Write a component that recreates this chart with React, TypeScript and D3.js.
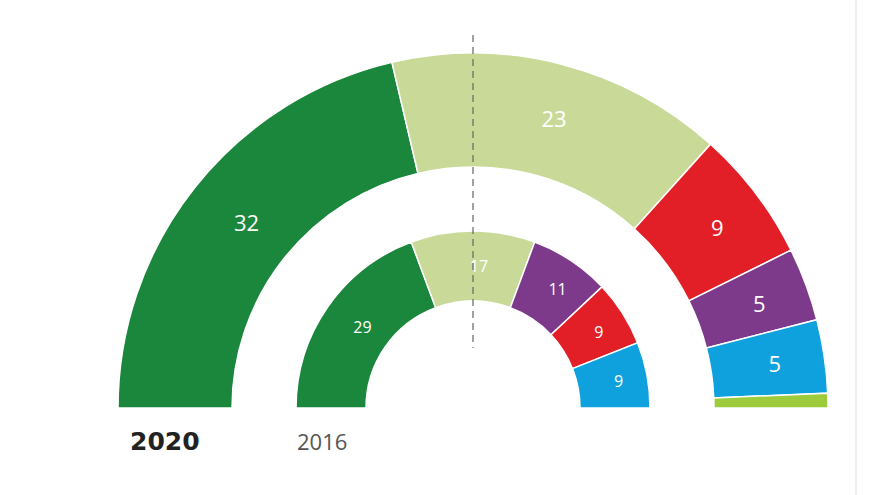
import * as d3 from "d3";

const width = 880;
const height = 495;
const cx = 473;
const cy = 408;

// 2020 (outer ring)
const seats2020 = [32, 23, 9, 5, 5, 1];
const colors2020 = ["#1b873c", "#c9da98", "#e21f26", "#7d3a8b", "#0ea1dd", "#9dcb3c"];

// 2016 (inner ring)
const seats2016 = [29, 17, 11, 9, 9];
const colors2016 = ["#1b873c", "#c9da98", "#7d3a8b", "#e21f26", "#0ea1dd"];

const yearLabels = ["2020", "2016"];

const pie = d3
  .pie<number>()
  .sort(null)
  .value((d) => d)
  .startAngle(-Math.PI / 2)
  .endAngle(Math.PI / 2);

function Ring({
  seats,
  colors,
  inner,
  outer,
  fontSize,
  dx,
}: {
  seats: number[];
  colors: string[];
  inner: number;
  outer: number;
  fontSize: number;
  dx: number;
}) {
  const arc = d3.arc<d3.PieArcDatum<number>>().innerRadius(inner).outerRadius(outer);
  const arcs = pie(seats);
  return (
    <g>
      {arcs.map((a, i) => (
        <path key={i} d={arc(a) ?? ""} fill={colors[i]} stroke="#fff" strokeWidth={1.5} />
      ))}
      {arcs.map((a, i) => {
        // la franja de 1 escaño no lleva etiqueta
        if (a.data < 2) return null;
        const [x, y] = arc.centroid(a);
        return (
          <text
            key={"t" + i}
            x={x + dx}
            y={y}
            dy="0.35em"
            textAnchor="middle"
            fill="#fff"
            fontSize={fontSize}
            fontFamily="'Open Sans', sans-serif"
          >
            {a.data}
          </text>
        );
      })}
    </g>
  );
}

export default function App() {
  return (
    <svg
      width={width}
      height={height}
      viewBox={`0 0 ${width} ${height}`}
      style={{ position: "absolute", left: 0, top: 0, background: "#fff" }}
    >
      <line x1={856} x2={856} y1={0} y2={height} stroke="#ebebeb" strokeWidth={1.5} />
      <g transform={`translate(${cx},${cy})`}>
        <Ring seats={seats2020} colors={colors2020} inner={241} outer={355} fontSize={22} dx={7} />
        <Ring seats={seats2016} colors={colors2016} inner={107} outer={177} fontSize={16} dx={6} />
      </g>
      <line
        x1={cx}
        x2={cx}
        y1={35}
        y2={348}
        stroke="#666"
        strokeWidth={1.2}
        strokeDasharray="7 5"
      />
      <text
        x={130}
        y={450}
        fontSize={25}
        fontWeight={700}
        fill="#222"
        fontFamily="'DejaVu Sans', sans-serif"
      >
        {yearLabels[0]}
      </text>
      <text
        x={297}
        y={450}
        fontSize={22}
        fill="#555"
        fontFamily="'Open Sans', sans-serif"
      >
        {yearLabels[1]}
      </text>
    </svg>
  );
}
